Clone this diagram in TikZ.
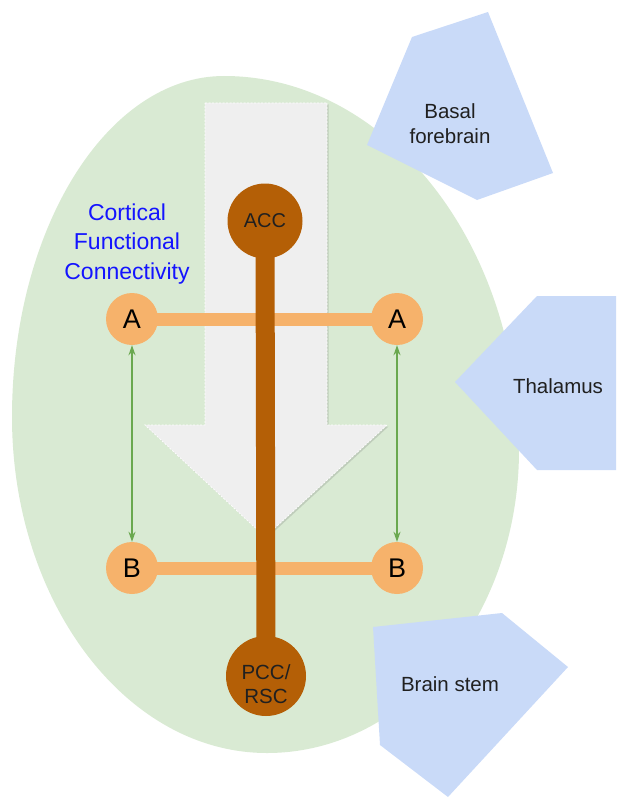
\documentclass[tikz,border=0pt]{standalone}
\usepackage{fontspec}
\setmainfont{Liberation Sans}
\usetikzlibrary{shadows,arrows.meta}
\definecolor{bgreen}{HTML}{D9EAD3}
\definecolor{pblue}{HTML}{C9DAF8}
\definecolor{aorange}{HTML}{F6B26B}
\definecolor{abrown}{HTML}{B45F06}
\definecolor{agreen}{HTML}{6AA84F}
\definecolor{agray}{HTML}{EFEFEF}
\definecolor{txt}{HTML}{202020}
\definecolor{cblue}{HTML}{1414FF}
\pgfdeclarelayer{bg}
\pgfdeclarelayer{mid}
\pgfsetlayers{bg,mid,main}
\tikzset{
  region/.style={fill=pblue},
  regionlabel/.style={text=txt, inner sep=0pt, align=center, font=\fontsize{20.5}{25}\selectfont},
  grayarrow/.style={fill=agray, draw=white, line width=0.7pt, dash pattern=on 2pt off 1.5pt,
    drop shadow={shadow xshift=1.5pt, shadow yshift=-1.5pt, opacity=0.22, fill=black!60}},
  ocirc/.style={circle, fill=aorange, minimum size=52pt, inner sep=0pt, text=black, font=\fontsize{27}{30}\selectfont},
  bcirc/.style={circle, fill=abrown, inner sep=0pt, text=txt},
  orangebar/.style={draw=aorange, line width=13pt},
  brownbar/.style={draw=abrown, line width=19pt},
  garrow/.style={draw=agreen, line width=1.3pt, {Stealth[length=10pt,width=7pt]}-{Stealth[length=10pt,width=7pt]}},
}
\begin{document}
\begin{tikzpicture}[x=1pt,y=-1pt]
\useasboundingbox (0,0) rectangle (616,797);
\begin{pgfonlayer}{bg}
  \fill[bgreen] (224,76) .. controls (387,76) and (519,244) .. (519,450)
     .. controls (519,617) and (406,753) .. (267,753)
     .. controls (126,753) and (12,602) .. (12,417)
     .. controls (12,229) and (107,76) .. (224,76) -- cycle;
  \fill[region] (412,37) -- (488,12) -- (553,173) -- (477,200) -- (367,145) -- cycle;
  \fill[region] (537,296) -- (616,296) -- (616,470) -- (537,470) -- (455,382) -- cycle;
  \fill[region] (373,627) -- (502,613) -- (568,667) -- (448,797) -- (380,745) -- cycle;
  \path[grayarrow] (205,103) -- (327,103) -- (327,425) -- (387,425) -- (265,537)
     -- (145,425) -- (205,425) -- cycle;
\end{pgfonlayer}

\node[regionlabel] (bf) at (450,124) {Basal\\forebrain};
\node[regionlabel, anchor=base] (th) at (558,393) {Thalamus};
\node[regionlabel, anchor=base] (bs) at (450,691) {Brain stem};

\node[text=cblue, inner sep=0pt, align=center, font=\fontsize{23}{29.5}\selectfont] (cfc) at (127,244)
  {Cortical\\Functional\\Connectivity};

\node[bcirc, minimum size=75pt, font=\fontsize{20}{22}\selectfont] (acc) at (265,221) {ACC};
\node[bcirc, minimum size=80pt] (pcc) at (266,676) {};
\node[text=txt, inner sep=0pt, align=center, font=\fontsize{20.5}{23.5}\selectfont] (pcct) at (266,684) {PCC/\\RSC};

\node[ocirc] (a1) at (132,319) {A};
\node[ocirc] (a2) at (397,319) {A};
\node[ocirc] (b1) at (132,568) {B};
\node[ocirc] (b2) at (397,568) {B};

\begin{pgfonlayer}{mid}
  \draw[orangebar] (a1.center) -- (a2.center);
  \draw[orangebar] (b1.center) -- (b2.center);
  \draw[brownbar] (acc.center) -- (pcc.center);
\end{pgfonlayer}

\draw[garrow] (a1) -- (b1);
\draw[garrow] (a2) -- (b2);
\end{tikzpicture}
\end{document}
